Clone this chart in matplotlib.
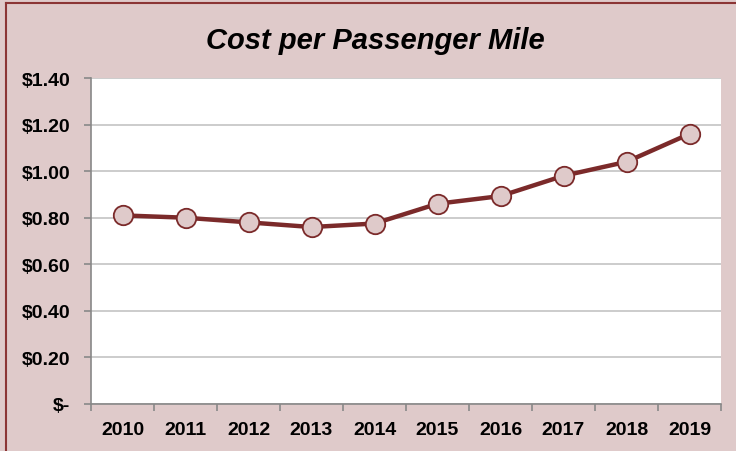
import numpy as np
import matplotlib.pyplot as plt
from matplotlib.lines import Line2D

years = ['2010', '2011', '2012', '2013', '2014', '2015', '2016', '2017', '2018', '2019']
cost = [0.81, 0.80, 0.78, 0.76, 0.775, 0.86, 0.893, 0.98, 1.04, 1.16]
yticks = [0, 0.2, 0.4, 0.6, 0.8, 1.0, 1.2, 1.4]
ylabels = ['$-', '$0.20', '$0.40', '$0.60', '$0.80', '$1.00', '$1.20', '$1.40']

plt.rcParams['font.family'] = ['Liberation Sans', 'DejaVu Sans']

bg = '#dfcaca'
fig = plt.figure(figsize=(7.36, 4.52), dpi=100, facecolor=bg)
ax = fig.add_axes([91/736, 1-405/452, (721-91)/736, (405-79)/452])
ax.set_facecolor('white')

x = np.arange(len(years))
ax.plot(x, cost, color='#7b2a2a', lw=3.2, marker='o', ms=14,
        mfc='#dfcaca', mec='#7b2a2a', mew=1.3, zorder=3, clip_on=False)

ax.set_xlim(-0.5, len(years) - 0.5)
ax.set_ylim(0, 1.4)
ax.set_yticks(yticks)
ax.set_yticklabels(ylabels, fontsize=14, fontweight='bold')
ax.set_xticks(x)
ax.set_xticklabels(years, fontsize=14, fontweight='bold')
ax.tick_params(axis='x', length=0, pad=12)
ax.set_xticks(np.arange(-0.5, len(years)), minor=True)
ax.tick_params(axis='x', which='minor', length=5, color='#888888', width=1.2)
ax.tick_params(axis='y', length=5, color='#888888', width=1.2, pad=10)

ax.grid(axis='y', color='#c4c4c4', lw=1.2)
ax.set_axisbelow(True)
for s in ['top', 'right']:
    ax.spines[s].set_visible(False)
for s in ['left', 'bottom']:
    ax.spines[s].set_color('#888888')
    ax.spines[s].set_linewidth(1.2)

fig.text(375/736, 1-49/452, 'Cost per Passenger Mile', ha='center', va='baseline',
         fontsize=21, fontweight='bold', fontstyle='italic')

# dark red frame edges (left, top)
fig.add_artist(Line2D([6/736, 6/736], [0, 1-4/452], transform=fig.transFigure,
                      color='#8b3535', lw=1.5))
fig.add_artist(Line2D([6/736, 1], [1-4/452, 1-4/452], transform=fig.transFigure,
                      color='#8b3535', lw=1.5))

fig.savefig('out.png', dpi=100, facecolor=bg)
